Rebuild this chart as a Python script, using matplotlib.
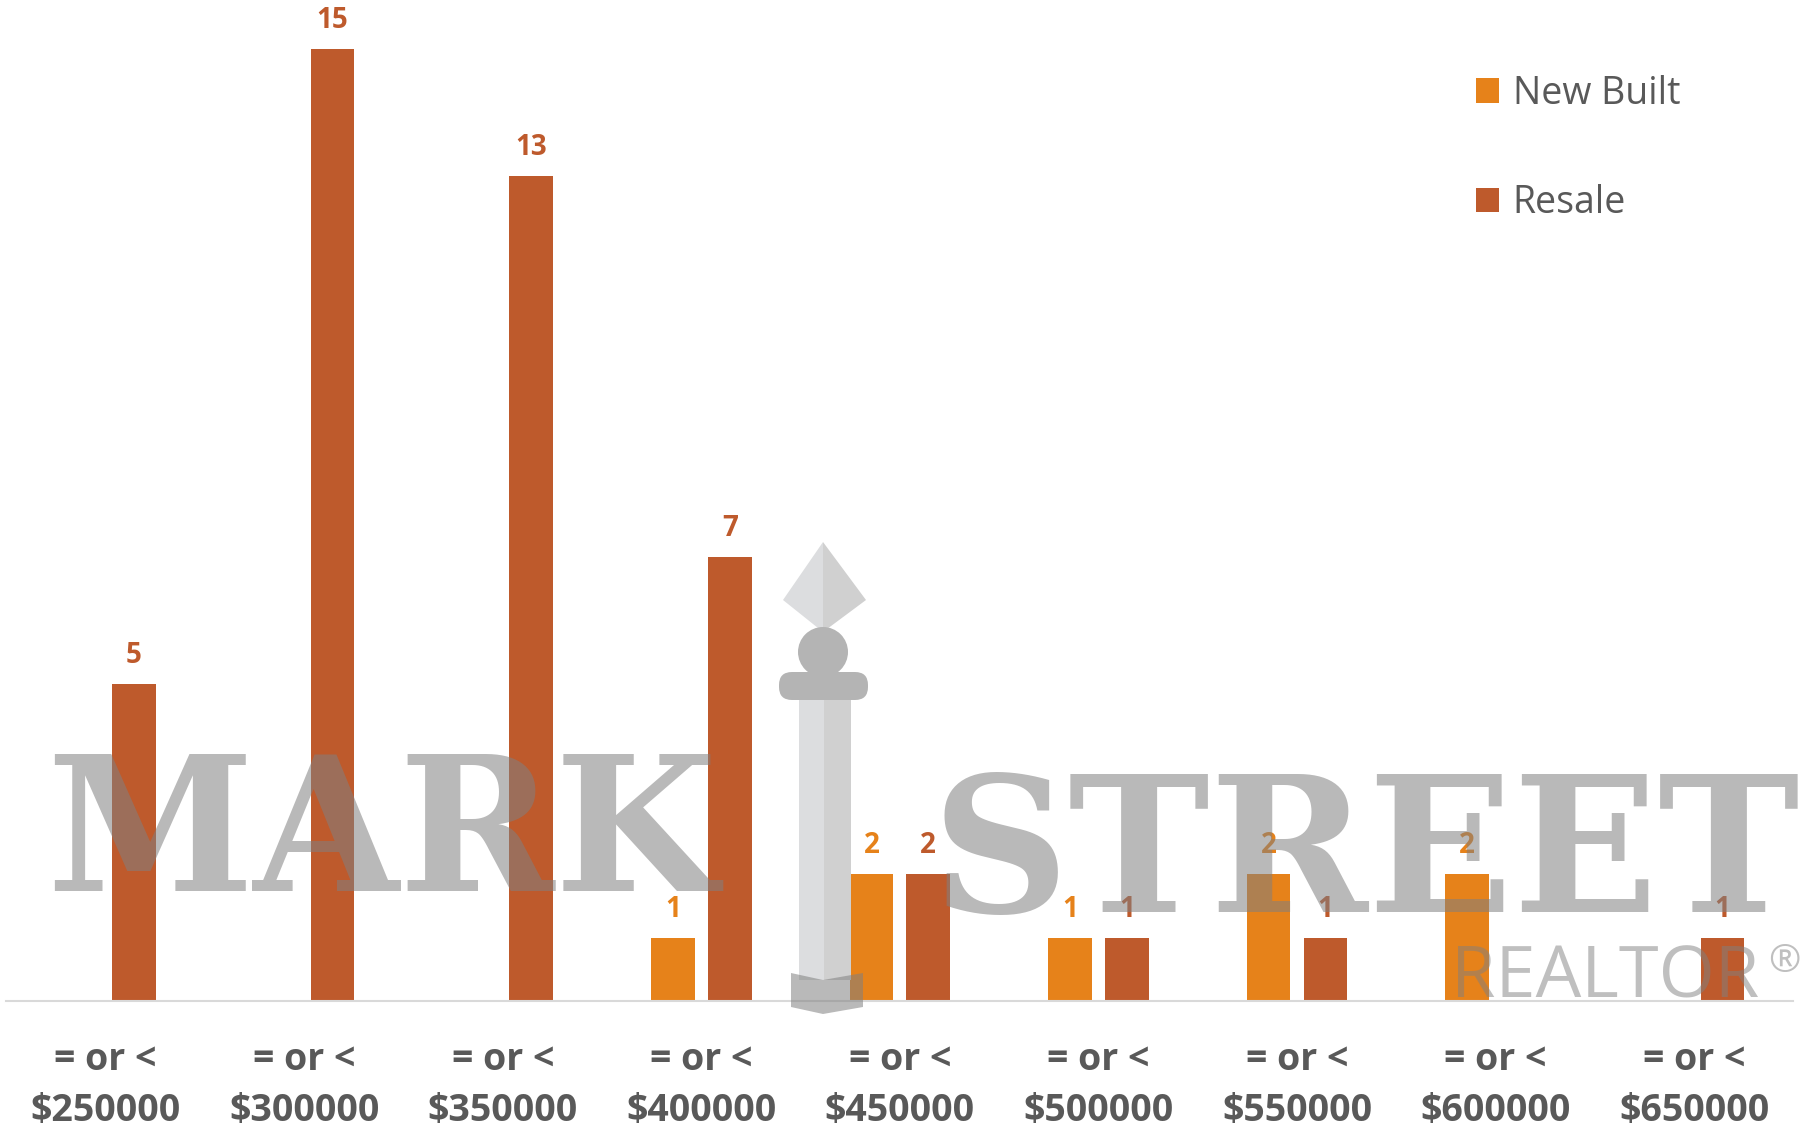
import numpy as np
import matplotlib
matplotlib.use("Agg")
import matplotlib.pyplot as plt
from matplotlib.patches import Polygon, Circle, FancyBboxPatch, Rectangle

# price brackets and counts
categories = ["= or <\n$250000", "= or <\n$300000", "= or <\n$350000",
              "= or <\n$400000", "= or <\n$450000", "= or <\n$500000",
              "= or <\n$550000", "= or <\n$600000", "= or <\n$650000"]
new_built = [0, 0, 0, 1, 2, 1, 2, 2, 0]
resale = [5, 15, 13, 7, 2, 1, 1, 0, 1]

c_new = "#E6821A"
c_resale = "#BE5A2C"
c_text = "#595959"

plt.rcParams['font.family'] = ['Open Sans', 'DejaVu Sans']

fig = plt.figure(figsize=(18.15, 11.29), dpi=100)
ax = fig.add_axes([0.0035, 1 - 1001 / 1129, 0.9846, 1001 / 1129])

x = np.arange(len(categories))
w = 0.22
off = 0.143
b1 = ax.bar(x - off, new_built, w, color=c_new, label="New Built")
b2 = ax.bar(x + off, resale, w, color=c_resale, label="Resale")

ax.bar_label(b1, labels=[str(v) if v else "" for v in new_built], padding=10,
             color=c_new, fontsize=20, fontweight="bold")
ax.bar_label(b2, labels=[str(v) if v else "" for v in resale], padding=10,
             color=c_resale, fontsize=20, fontweight="bold")

ax.set_xlim(-0.5, 8.5)
ax.set_ylim(0, 1001 / 63.5)
ax.set_xticks(x)
ax.set_xticklabels(categories, fontsize=27, fontweight="bold", color=c_text,
                   linespacing=1.45)
ax.tick_params(axis="x", length=0, pad=29)
ax.set_yticks([])
for s in ["top", "right", "left"]:
    ax.spines[s].set_visible(False)
ax.spines["bottom"].set_color("#D9D9D9")
ax.spines["bottom"].set_linewidth(1.5)

leg = ax.legend(loc="upper left", bbox_to_anchor=(0.8036, 0.959), frameon=False,
                fontsize=27, labelspacing=1.9, handlelength=0.62,
                handleheight=0.62, handletextpad=0.35)
for t in leg.get_texts():
    t.set_color(c_text)

# watermark overlay in pixel coordinates
wm = fig.add_axes([0, 0, 1, 1], zorder=5)
wm.set_xlim(0, 1815)
wm.set_ylim(1129, 0)
wm.axis("off")
wm.patch.set_alpha(0)

gray = "#808080"
wm.text(382, 891, "MARK", ha="center", va="baseline", fontsize=135,
        fontweight="bold", family="DejaVu Serif", color=gray, alpha=0.55)
wm.text(1366, 912, "STREET", ha="center", va="baseline", fontsize=137,
        fontweight="bold", family="DejaVu Serif", color=gray, alpha=0.55)
wm.text(1451, 998, "REALTOR", ha="left", va="baseline", fontsize=52,
        color=gray, alpha=0.5)
wm.text(1768, 972, "®", ha="left", va="baseline", fontsize=28,
        color=gray, alpha=0.5)

# pillar
wm.add_patch(Polygon([(823, 542), (783, 600), (823, 632)], closed=True,
                     color="#DCDDDF", lw=0))
wm.add_patch(Polygon([(823, 542), (866, 600), (823, 632)], closed=True,
                     color="#D0D0D0", lw=0))
wm.add_patch(Rectangle((799, 700), 25, 280, color="#DCDDDF", lw=0))
wm.add_patch(Rectangle((824, 700), 27, 280, color="#D0D0D0", lw=0))
wm.add_patch(Circle((823, 652), 25, color="#B4B4B4", lw=0))
wm.add_patch(FancyBboxPatch((779, 672), 89, 28,
                            boxstyle="round,pad=0,rounding_size=13",
                            color="#B4B4B4", lw=0))
wm.add_patch(Polygon([(791, 973), (823, 980), (863, 973), (863, 1007),
                      (823, 1014), (791, 1007)], closed=True,
                     color=gray, alpha=0.55, lw=0))

fig.savefig("out.png", dpi=100)
